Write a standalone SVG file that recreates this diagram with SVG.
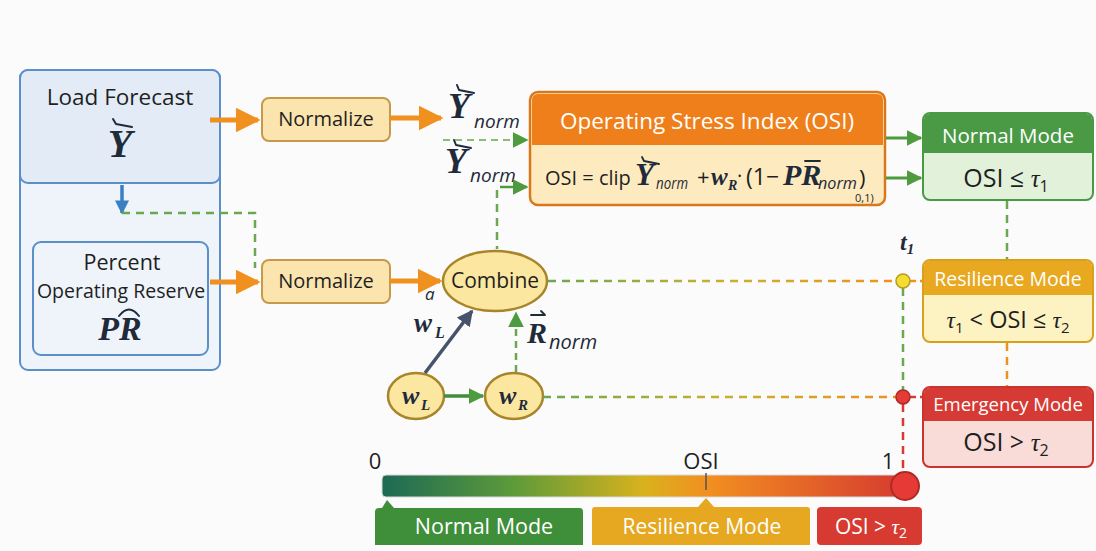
<svg xmlns="http://www.w3.org/2000/svg" width="1096" height="551" viewBox="0 0 1096 551">
<style>
.lbl{font-family:"Open Sans","Liberation Sans",sans-serif;fill:#1f1f1f}
.wh{font-family:"Open Sans","Liberation Sans",sans-serif;fill:#ffffff}
.math{font-family:"Liberation Serif","DejaVu Serif",serif;font-style:italic;font-weight:bold;fill:#1f2a3a}
.sub{font-family:"Open Sans","Liberation Sans",sans-serif;font-style:italic;fill:#1f2a3a}
.acc{stroke:#1f2a3a;fill:none;stroke-linecap:round}
.norm{fill:#fbe4ad;stroke:#c79a4a;stroke-width:2}
.orangeA{stroke:#f0901e;stroke-width:5;fill:none}
.gdash{stroke:#6aa84f;stroke-width:2.5;stroke-dasharray:8 6;fill:none}
.ell{fill:#fbe7a0;stroke:#a8852a;stroke-width:2.5}
</style>
<defs>
<marker id="ao" viewBox="0 0 10 10" refX="9" refY="5" markerWidth="5" markerHeight="5" orient="auto"><path d="M0,0 L10,5 L0,10 z" fill="#f0901e"/></marker>
<marker id="agb" viewBox="0 0 10 10" refX="9" refY="5" markerWidth="16" markerHeight="16" orient="auto" markerUnits="userSpaceOnUse"><path d="M0,0 L10,5 L0,10 z" fill="#4e9a3e"/></marker>
<marker id="ab" viewBox="0 0 10 10" refX="9" refY="5" markerWidth="14" markerHeight="14" orient="auto" markerUnits="userSpaceOnUse"><path d="M0,0 L10,5 L0,10 z" fill="#3a7fc4"/></marker>
<marker id="ad" viewBox="0 0 10 10" refX="9" refY="5" markerWidth="16" markerHeight="16" orient="auto" markerUnits="userSpaceOnUse"><path d="M0,0 L10,5 L0,10 z" fill="#46536a"/></marker>
<linearGradient id="bar" x1="0" x2="1" y1="0" y2="0">
<stop offset="0" stop-color="#1d6a55"/><stop offset="0.25" stop-color="#5d9a3a"/><stop offset="0.5" stop-color="#d8b21e"/><stop offset="0.62" stop-color="#f29020"/><stop offset="1" stop-color="#d63a30"/>
</linearGradient>
<linearGradient id="dl" gradientUnits="userSpaceOnUse" x1="548" y1="0" x2="896" y2="0">
<stop offset="0" stop-color="#6aa84f"/><stop offset="0.5" stop-color="#c8b030"/><stop offset="1" stop-color="#f0901e"/>
</linearGradient>
</defs>
<rect width="1096" height="551" fill="#fbfbfb"/>

<g id="inputs">
<rect x="20" y="70" width="200" height="300" rx="8" fill="#eef4fa" stroke="#5b8fc9" stroke-width="2"/>
<rect x="20" y="70" width="200" height="113" rx="8" fill="#e3ecf6" stroke="#5b8fc9" stroke-width="2"/>
<text x="120" y="105" text-anchor="middle" class="lbl" font-size="22.5">Load Forecast</text>
<text x="120" y="157" text-anchor="middle" class="math" font-size="40">Y</text>
<path d="M116,124 L132,127 M116,124 L113,119" class="acc" stroke-width="2"/>
<rect x="33" y="242" width="175" height="113" rx="8" fill="#eef4fa" stroke="#5b8fc9" stroke-width="2"/>
<text x="122" y="270" text-anchor="middle" class="lbl" font-size="21.5">Percent</text>
<text x="121" y="298" text-anchor="middle" class="lbl" font-size="19.5">Operating Reserve</text>
<text x="120" y="340" text-anchor="middle" class="math" font-size="34">PR</text>
<path d="M119,316 Q129,303 139,316" class="acc" stroke-width="2"/>
</g>

<g id="normalize1"><rect x="262" y="98" width="128" height="43" rx="7" class="norm"/><text x="326" y="126" text-anchor="middle" class="lbl" font-size="20">Normalize</text></g>
<g id="normalize2"><rect x="262" y="260" width="128" height="43" rx="7" class="norm"/><text x="326" y="288" text-anchor="middle" class="lbl" font-size="20">Normalize</text></g>

<g id="osi">
<rect x="530" y="92" width="355" height="113" rx="8" fill="#fdebbf" stroke="#d9781a" stroke-width="2.5"/>
<path d="M532,145 L532,100 Q532,94 538,94 L877,94 Q883,94 883,100 L883,145 Z" fill="#ef7f1a"/>
<text x="707" y="129" text-anchor="middle" class="wh" font-size="22.5">Operating Stress Index (OSI)</text>
<text x="545" y="185" class="lbl" font-size="20">OSI = clip</text>
<text x="635" y="185" class="math" font-size="31">Y</text>
<path d="M644,161 L659,164 M644,161 L642,157" class="acc" stroke-width="1.8"/>
<text x="656" y="189" class="sub" font-size="17" textLength="32" lengthAdjust="spacingAndGlyphs">norm</text>
<text x="697" y="185" class="lbl" font-size="22">+</text>
<text x="711" y="185" class="math" font-size="25">w</text>
<text x="728" y="190" class="math" font-size="14">R</text>
<text x="737" y="183" class="lbl" font-size="20">·</text>
<text x="746" y="185" class="lbl" font-size="23">(1−</text>
<text x="783" y="185" class="math" font-size="30">PR</text>
<path d="M805,161 L820,161" class="acc" stroke-width="1.8"/>
<text x="818" y="189" class="sub" font-size="17" textLength="39" lengthAdjust="spacingAndGlyphs">norm</text>
<text x="859" y="186" class="lbl" font-size="22">)</text>
<text x="855" y="202" class="lbl" font-size="11">0,1)</text>
</g>

<g id="normalMode">
<rect x="923" y="113" width="170" height="87" rx="7" fill="#e2f1da" stroke="#4a9a45" stroke-width="2"/>
<path d="M924,153 L924,120 Q924,114 930,114 L1086,114 Q1092,114 1092,120 L1092,153 Z" fill="#4a9a45"/>
<text x="1008" y="143" text-anchor="middle" class="wh" font-size="20.5">Normal Mode</text>
<text x="1006" y="187" text-anchor="middle" class="lbl" font-size="25">OSI ≤ <tspan font-family="Liberation Serif,serif" font-style="italic">τ</tspan><tspan font-size="16" dy="5">1</tspan></text>
</g>
<g id="resilienceMode">
<rect x="923" y="260" width="170" height="82" rx="7" fill="#fdf3c2" stroke="#d9a020" stroke-width="2"/>
<path d="M924,295 L924,267 Q924,261 930,261 L1086,261 Q1092,261 1092,267 L1092,295 Z" fill="#e8a820"/>
<text x="1008" y="286" text-anchor="middle" class="wh" font-size="19.5">Resilience Mode</text>
<text x="1008" y="328" text-anchor="middle" class="lbl" font-size="23.5"><tspan font-family="Liberation Serif,serif" font-style="italic">τ</tspan><tspan font-size="15" dy="5">1</tspan><tspan dy="-5"> &lt; OSI ≤ </tspan><tspan font-family="Liberation Serif,serif" font-style="italic">τ</tspan><tspan font-size="15" dy="5">2</tspan></text>
</g>
<g id="emergencyMode">
<rect x="923" y="387" width="170" height="80" rx="7" fill="#f9dcd8" stroke="#c9342e" stroke-width="2"/>
<path d="M924,421 L924,394 Q924,388 930,388 L1086,388 Q1092,388 1092,394 L1092,421 Z" fill="#d63a34"/>
<text x="1008" y="411" text-anchor="middle" class="wh" font-size="18.5">Emergency Mode</text>
<text x="1006" y="451" text-anchor="middle" class="lbl" font-size="25">OSI &gt; <tspan font-family="Liberation Serif,serif" font-style="italic">τ</tspan><tspan font-size="16" dy="5">2</tspan></text>
</g>

<g id="combine"><ellipse cx="495" cy="281" rx="52" ry="30" class="ell"/><text x="495" y="288" text-anchor="middle" class="lbl" font-size="21">Combine</text></g>
<g id="wL"><ellipse cx="416" cy="396" rx="28" ry="23" class="ell"/><text x="402" y="404" class="math" font-size="26">w</text><text x="421" y="410" class="math" font-size="15">L</text></g>
<g id="wR"><ellipse cx="514" cy="396" rx="29" ry="23" class="ell"/><text x="499" y="404" class="math" font-size="26">w</text><text x="518" y="410" class="math" font-size="15">R</text></g>

<g id="labels">
<text x="448" y="118" class="math" font-size="36">Y</text>
<path d="M459,90 L474,93 M459,90 L457,85" class="acc" stroke-width="2"/>
<text x="474" y="128" class="sub" font-size="19">norm</text>
<text x="445" y="173" class="math" font-size="36">Y</text>
<path d="M456,145 L471,148 M456,145 L454,140" class="acc" stroke-width="2"/>
<text x="470" y="182" class="sub" font-size="19">norm</text>
<text x="425" y="300" class="sub" font-size="17">a</text>
<text x="414" y="332" class="math" font-size="27">w</text><text x="435" y="338" class="math" font-size="16">L</text>
<text x="527" y="343" class="math" font-size="30">R</text>
<path d="M531,315 L545,315 M541,311 L545,315" class="acc" stroke-width="1.8"/>
<text x="549" y="349" class="sub" font-size="20">norm</text>
<text x="900" y="250" class="math" font-size="24">t<tspan font-size="15" dy="4">1</tspan></text>
</g>

<g id="connectors">
<line x1="210" y1="120" x2="258" y2="120" class="orangeA" marker-end="url(#ao)"/>
<line x1="390" y1="118" x2="441" y2="118" class="orangeA" marker-end="url(#ao)"/>
<line x1="210" y1="282" x2="258" y2="282" class="orangeA" marker-end="url(#ao)"/>
<line x1="390" y1="281" x2="440" y2="281" class="orangeA" marker-end="url(#ao)"/>
<line x1="122" y1="185" x2="122" y2="213" stroke="#3a7fc4" stroke-width="3.5" marker-end="url(#ab)"/>
<polyline points="122,213 255,213 255,268" class="gdash"/>
<line x1="443" y1="140" x2="527" y2="140" stroke="#6aa84f" stroke-width="1.5" stroke-dasharray="7 5" marker-end="url(#agb)"/>
<line x1="500" y1="187" x2="527" y2="187" stroke="#4e9a3e" stroke-width="2.5" marker-end="url(#agb)"/>
<line x1="497" y1="190" x2="497" y2="249" class="gdash"/>
<line x1="886" y1="138" x2="921" y2="138" stroke="#4e9a3e" stroke-width="3" marker-end="url(#agb)"/>
<line x1="886" y1="178" x2="921" y2="178" stroke="#4e9a3e" stroke-width="3" marker-end="url(#agb)"/>
<line x1="1007" y1="201" x2="1007" y2="259" class="gdash"/>
<line x1="1007" y1="343" x2="1007" y2="386" stroke="#f0901e" stroke-width="2.5" stroke-dasharray="8 6"/>
<line x1="548" y1="281" x2="896" y2="281" stroke="url(#dl)" stroke-width="2.5" stroke-dasharray="8 6"/>
<line x1="543" y1="397" x2="896" y2="397" stroke="url(#dl)" stroke-width="2.5" stroke-dasharray="8 6"/>
<line x1="910" y1="281" x2="922" y2="281" stroke="#f0901e" stroke-width="2.5" stroke-dasharray="6 4"/>
<line x1="910" y1="397" x2="922" y2="397" stroke="#d63a30" stroke-width="2.5" stroke-dasharray="6 4"/>
<line x1="903" y1="288" x2="903" y2="390" class="gdash"/>
<line x1="903" y1="404" x2="903" y2="474" stroke="#d63a30" stroke-width="2.5" stroke-dasharray="8 6"/>
<line x1="425" y1="373" x2="472" y2="311" stroke="#46536a" stroke-width="3.5" marker-end="url(#ad)"/>
<line x1="444" y1="396" x2="483" y2="396" stroke="#3e8f3a" stroke-width="3.5" marker-end="url(#agb)"/>
<line x1="516" y1="372" x2="516" y2="313" stroke="#6aa84f" stroke-width="2.5" stroke-dasharray="7 5" marker-end="url(#agb)"/>
<circle cx="903" cy="281" r="7" fill="#f4dc30" stroke="#b89a20" stroke-width="1.5"/>
<circle cx="903" cy="397" r="7" fill="#e53a35" stroke="#a82a25" stroke-width="1.5"/>
</g>

<g id="scale">
<text x="375" y="469" text-anchor="middle" class="lbl" font-size="22">0</text>
<text x="701" y="469" text-anchor="middle" class="lbl" font-size="22">OSI</text>
<text x="888" y="469" text-anchor="middle" class="lbl" font-size="22">1</text>
<rect x="382" y="475" width="523" height="22" rx="4" fill="url(#bar)" stroke="#d9d9d9" stroke-width="1"/>
<line x1="706" y1="473" x2="706" y2="490" stroke="#555" stroke-width="1.5"/>
<circle cx="905" cy="486" r="14" fill="#e53a35" stroke="#b02a25" stroke-width="2"/>
<path d="M375,545 L375,512 Q375,508 379,508 L382,508 L387,500 L394,508 L580,508 Q583,508 583,512 L583,545 Z" fill="#3f8f3a"/>
<text x="484" y="534" text-anchor="middle" class="wh" font-size="21.5">Normal Mode</text>
<path d="M592,545 L592,510 Q592,507 595,507 L698,507 L706,498 L714,507 L807,507 Q810,507 810,510 L810,545 Z" fill="#e5a820"/>
<text x="702" y="534" text-anchor="middle" class="wh" font-size="21">Resilience Mode</text>
<rect x="817" y="507" width="105" height="38" rx="4" fill="#d63a30"/>
<text x="871" y="534" text-anchor="middle" class="wh" font-size="21">OSI &gt; <tspan font-family="Liberation Serif,serif" font-style="italic">τ</tspan><tspan font-size="14" dy="4">2</tspan></text>
</g>
</svg>
